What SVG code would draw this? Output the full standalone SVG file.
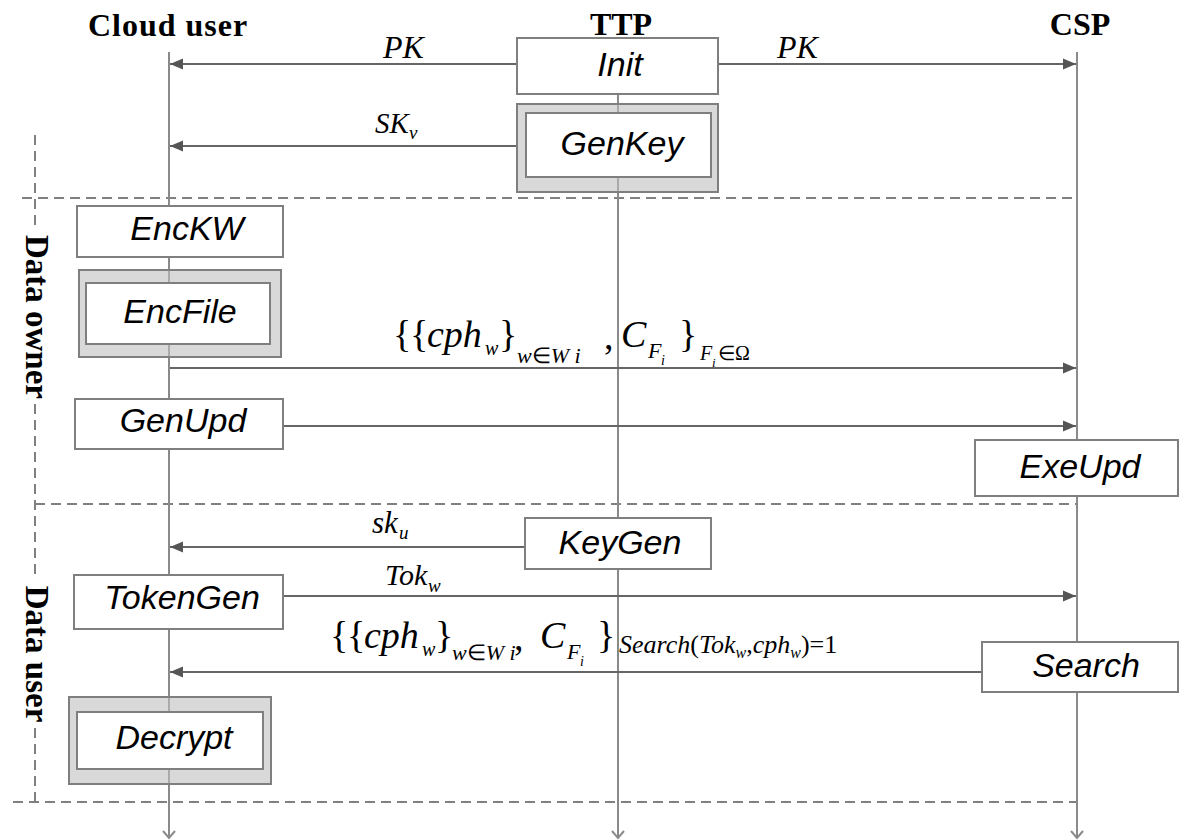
<svg xmlns="http://www.w3.org/2000/svg" width="1179" height="840" viewBox="0 0 1179 840">
<defs>
<style>
.hdr{font-family:"Liberation Serif","Times New Roman",serif;font-weight:bold;font-size:32px;fill:#000}
.side{font-family:"Liberation Serif","Times New Roman",serif;font-weight:bold;font-size:33px;fill:#000}
.lbl{font-family:"Liberation Sans",Arial,sans-serif;font-style:italic;font-size:34px;fill:#000;text-anchor:middle}
.m{font-family:"Liberation Serif","Times New Roman",serif;fill:#000}
.i{font-style:italic}
.life{stroke:#8a8a8a;stroke-width:2;fill:none}
.msg{stroke:#666;stroke-width:1.8;fill:none}
.dash{stroke:#808080;stroke-width:2;stroke-dasharray:10 6;fill:none}
.box{fill:#fff;stroke:#7f7f7f;stroke-width:2}
.outer{fill:#bfbfbf;fill-opacity:0.6;stroke:#7f7f7f;stroke-width:2}
</style>
<marker id="arr" markerUnits="userSpaceOnUse" markerWidth="14" markerHeight="12" refX="13" refY="6" orient="auto">
<path d="M0,0.5 L13,6 L0,11.5 z" fill="#555"/>
</marker>
</defs>
<rect width="1179" height="840" fill="#fff"/>

<g id="headers">
<text class="hdr" x="168" y="36" text-anchor="middle" letter-spacing="1">Cloud user</text>
<text class="hdr" x="621" y="35" text-anchor="middle">TTP</text>
<text class="hdr" x="1080" y="35" text-anchor="middle">CSP</text>
</g>

<g id="frames">
<line class="dash" x1="22" y1="198" x2="1077" y2="198"/>
<line class="dash" x1="35" y1="504" x2="1077" y2="504"/>
<line class="dash" x1="13" y1="802" x2="1077" y2="802"/>
<line class="dash" x1="35" y1="135" x2="35" y2="231"/>
<line class="dash" x1="35" y1="404" x2="35" y2="580"/>
<line class="dash" x1="35" y1="728" x2="35" y2="802"/>
<text class="side" transform="translate(26,317) rotate(90)" text-anchor="middle">Data owner</text>
<text class="side" transform="translate(26,654) rotate(90)" text-anchor="middle">Data user</text>
</g>

<g id="lifelines">
<line class="life" x1="169" y1="52" x2="169" y2="838"/>
<line class="life" x1="618" y1="52" x2="618" y2="838"/>
<line class="life" x1="1077" y1="52" x2="1077" y2="838"/>
<polyline class="life" points="163,831 169,838 175,831"/>
<polyline class="life" points="612,831 618,838 624,831"/>
<polyline class="life" points="1071,831 1077,838 1083,831"/>
</g>

<g id="connectors">
<line class="msg" x1="517" y1="64" x2="170" y2="64" marker-end="url(#arr)"/>
<line class="msg" x1="718" y1="64" x2="1076" y2="64" marker-end="url(#arr)"/>
<line class="msg" x1="517" y1="146" x2="170" y2="146" marker-end="url(#arr)"/>
<line class="msg" x1="170" y1="368" x2="1076" y2="368" marker-end="url(#arr)"/>
<line class="msg" x1="283" y1="426" x2="1076" y2="426" marker-end="url(#arr)"/>
<line class="msg" x1="525" y1="547" x2="170" y2="547" marker-end="url(#arr)"/>
<line class="msg" x1="283" y1="596" x2="1076" y2="596" marker-end="url(#arr)"/>
<line class="msg" x1="982" y1="672" x2="170" y2="672" marker-end="url(#arr)"/>
</g>

<g id="labels">
<text class="m i" x="383" y="58" font-size="32">PK</text>
<text class="m i" x="777" y="58" font-size="32">PK</text>
<text class="m i" x="375" y="133" font-size="29">SK</text>
<text class="m i" x="409" y="139" font-size="19">v</text>
<text class="m i" x="372" y="533" font-size="31">sk</text>
<text class="m i" x="399" y="539" font-size="19">u</text>
<text class="m i" x="385" y="585" font-size="30">Tok</text>
<text class="m i" x="428" y="592" font-size="19">w</text>

<g id="formula1">
<text class="m" x="393" y="347" font-size="38">{</text>
<text class="m" x="410" y="347" font-size="38">{</text>
<text class="m i" x="427" y="347" font-size="38">cph</text>
<text class="m i" x="485" y="355" font-size="20">w</text>
<text class="m" x="499" y="347" font-size="38">}</text>
<text class="m" x="517" y="363" font-size="22"><tspan class="i">w</tspan>∈<tspan class="i">W i</tspan></text>
<text class="m" x="604" y="349" font-size="38">,</text>
<text class="m i" x="621" y="347" font-size="38">C</text>
<text class="m i" x="648" y="358" font-size="22">F</text>
<text class="m i" x="661" y="365" font-size="14">i</text>
<text class="m" x="679" y="347" font-size="38">}</text>
<text class="m i" x="700" y="360" font-size="20">F</text>
<text class="m i" x="712" y="367" font-size="13">i</text>
<text class="m" x="718" y="360" font-size="20">∈Ω</text>
</g>

<g id="formula2">
<text class="m" x="330" y="648" font-size="38">{</text>
<text class="m" x="347" y="648" font-size="38">{</text>
<text class="m i" x="364" y="648" font-size="38">cph</text>
<text class="m i" x="422" y="656" font-size="20">w</text>
<text class="m" x="435" y="648" font-size="38">}</text>
<text class="m" x="452" y="660" font-size="22"><tspan class="i">w</tspan>∈<tspan class="i">W i</tspan></text>
<text class="m" x="514" y="650" font-size="38">,</text>
<text class="m i" x="540" y="648" font-size="38">C</text>
<text class="m i" x="567" y="659" font-size="22">F</text>
<text class="m i" x="580" y="666" font-size="14">i</text>
<text class="m" x="597" y="648" font-size="38">}</text>
<text class="m" x="619" y="653" font-size="26"><tspan class="i">Search</tspan>(<tspan class="i">Tok</tspan><tspan class="i" font-size="16" dy="5">w</tspan><tspan dy="-5">,</tspan><tspan class="i">cph</tspan><tspan class="i" font-size="16" dy="5">w</tspan><tspan dy="-5">)=1</tspan></text>
</g>
</g>

<g id="node-init">
<rect class="box" x="517" y="38" width="201" height="56"/>
<text class="lbl" x="620" y="76">Init</text>
</g>
<g id="node-genkey">
<rect class="outer" x="517" y="104" width="201" height="88"/>
<rect class="box" x="526" y="113" width="185" height="64"/>
<text class="lbl" x="622" y="155">GenKey</text>
</g>
<g id="node-enckw">
<rect class="box" x="77" y="206" width="206" height="51"/>
<text class="lbl" x="187" y="240">EncKW</text>
</g>
<g id="node-encfile">
<rect class="outer" x="79" y="270" width="202" height="87"/>
<rect class="box" x="86" y="283" width="184" height="61"/>
<text class="lbl" x="180" y="323">EncFile</text>
</g>
<g id="node-genupd">
<rect class="box" x="75" y="399" width="208" height="50"/>
<text class="lbl" x="183" y="432">GenUpd</text>
</g>
<g id="node-exeupd">
<rect class="box" x="975" y="440" width="203" height="56"/>
<text class="lbl" x="1080" y="478">ExeUpd</text>
</g>
<g id="node-keygen">
<rect class="box" x="525" y="518" width="186" height="51"/>
<text class="lbl" x="620" y="554">KeyGen</text>
</g>
<g id="node-tokengen">
<rect class="box" x="74" y="575" width="209" height="54"/>
<text class="lbl" x="182" y="609">TokenGen</text>
</g>
<g id="node-search">
<rect class="box" x="982" y="642" width="196" height="50"/>
<text class="lbl" x="1086" y="677">Search</text>
</g>
<g id="node-decrypt">
<rect class="outer" x="69" y="697" width="202" height="87"/>
<rect class="box" x="77" y="712" width="186" height="57"/>
<text class="lbl" x="174" y="749">Decrypt</text>
</g>
</svg>
